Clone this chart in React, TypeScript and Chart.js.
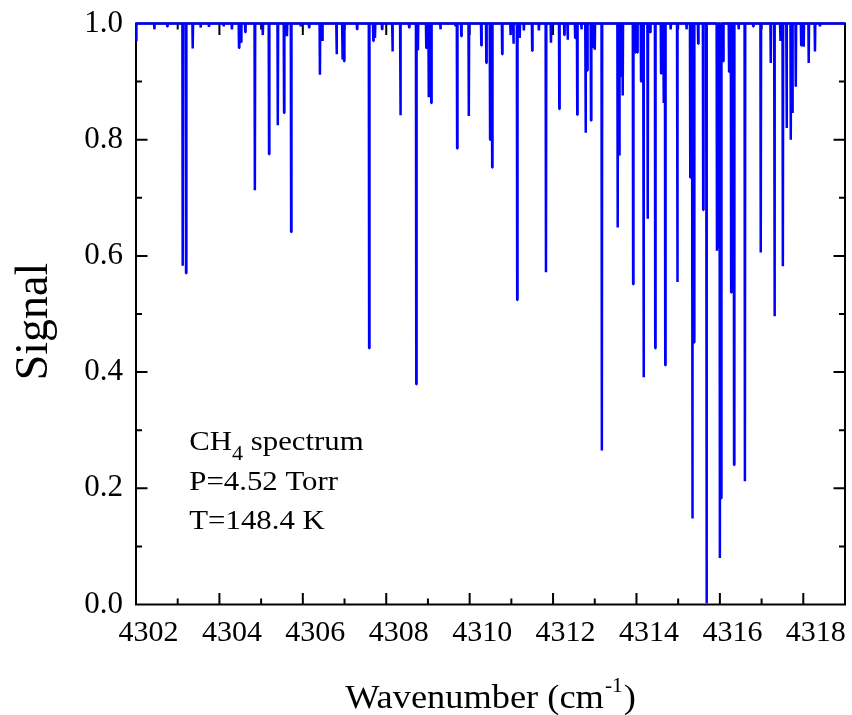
import React, { useEffect, useRef } from "react";
import { Chart, registerables } from "chart.js";

Chart.register(...registerables);

// ---- Data ----
const xRange = [4302, 4319];
const yRange = [0, 1];
const xTickStep = 2;
const yTickStep = 0.2;

// spectrum end points (wavenumber, signal)
const edgeWavenumbers = [4302.0, 4319.0];
const edgeSignals = [0.97, 1.0];
const baselineSignal = 1.0;

// absorption line centres (cm-1) and the signal at each line's minimum
const lineCenters = [
  4302.44, 4302.75, 4303.12, 4303.2, 4303.36, 4303.55, 4303.75, 4304.1, 4304.3, 4304.47,
  4304.52, 4304.62, 4304.85, 4305.04, 4305.19, 4305.4, 4305.55, 4305.62, 4305.72, 4305.95,
  4306.15, 4306.41, 4306.47, 4306.81, 4306.95, 4306.99, 4307.3, 4307.59, 4307.69, 4307.73,
  4307.9, 4308.15, 4308.34, 4308.55, 4308.72, 4308.76, 4308.96, 4309.02, 4309.08, 4309.3,
  4309.66, 4309.7, 4309.8, 4309.98, 4310.28, 4310.4, 4310.49, 4310.54, 4310.78, 4310.98,
  4311.05, 4311.14, 4311.2, 4311.3, 4311.5, 4311.66, 4311.83, 4311.95, 4312.15, 4312.27,
  4312.35, 4312.53, 4312.58, 4312.68, 4312.78, 4312.82, 4312.91, 4312.96, 4313.0, 4313.17,
  4313.55, 4313.59, 4313.63, 4313.67, 4313.92, 4313.97, 4314.02, 4314.11, 4314.17, 4314.27,
  4314.33, 4314.45, 4314.59, 4314.65, 4314.69, 4314.82, 4314.98, 4315.2, 4315.29, 4315.34,
  4315.38, 4315.48, 4315.6, 4315.68, 4315.93, 4315.96, 4316.0, 4316.03, 4316.08, 4316.22,
  4316.27, 4316.3, 4316.34, 4316.45, 4316.6, 4316.8, 4316.98, 4317.22, 4317.31, 4317.45,
  4317.51, 4317.6, 4317.7, 4317.74, 4317.82, 4317.95, 4318.01, 4318.13, 4318.28, 4318.4,
];
const lineSignals = [
  0.99, 0.995, 0.583, 0.57, 0.957, 0.993, 0.994, 0.995, 0.99, 0.958,
  0.968, 0.985, 0.713, 0.98, 0.775, 0.825, 0.846, 0.978, 0.641, 0.995,
  0.993, 0.912, 0.97, 0.947, 0.938, 0.935, 0.99, 0.441, 0.97, 0.975,
  0.99, 0.952, 0.842, 0.993, 0.379, 0.954, 0.958, 0.873, 0.863, 0.99,
  0.995, 0.785, 0.978, 0.841, 0.962, 0.932, 0.8, 0.752, 0.947, 0.98,
  0.965, 0.524, 0.975, 0.988, 0.953, 0.988, 0.572, 0.967, 0.853, 0.98,
  0.972, 0.975, 0.843, 0.99, 0.812, 0.919, 0.833, 0.96, 0.955, 0.265,
  0.649, 0.773, 0.91, 0.876, 0.551, 0.95, 0.95, 0.9, 0.391, 0.664,
  0.985, 0.441, 0.914, 0.863, 0.412, 0.99, 0.555, 0.99, 0.735, 0.148,
  0.451, 0.965, 0.679, 0.002, 0.609, 0.615, 0.08, 0.183, 0.935, 0.917,
  0.537, 0.84, 0.24, 0.99, 0.212, 0.995, 0.606, 0.932, 0.496, 0.97,
  0.582, 0.82, 0.8, 0.846, 0.891, 0.962, 0.96, 0.932, 0.952, 0.995,
];

// ---- Text ----
const yTitle = "Signal";
const xTitleMain = "Wavenumber (cm";
const xTitleSup = "-1";
const xTitleEnd = ")";
const noteLine1 = ["CH", "4", " spectrum"];
const noteLine2 = "P=4.52 Torr";
const noteLine3 = "T=148.4 K";

const FONT = "'Liberation Serif', 'Times New Roman', serif";
const LINE_HALF_WIDTH = 0.008;

function buildSpectrum() {
  const pts: { x: number; y: number }[] = [];
  pts.push({ x: edgeWavenumbers[0], y: edgeSignals[0] });
  pts.push({ x: edgeWavenumbers[0] + 0.01, y: baselineSignal });
  for (let i = 0; i < lineCenters.length; i++) {
    const c = lineCenters[i];
    pts.push({ x: c - LINE_HALF_WIDTH, y: baselineSignal });
    pts.push({ x: c, y: lineSignals[i] });
    pts.push({ x: c + LINE_HALF_WIDTH, y: baselineSignal });
  }
  pts.push({ x: edgeWavenumbers[1], y: edgeSignals[1] });
  return pts;
}

function drawScaled(ctx: CanvasRenderingContext2D, text: string, x: number, y: number, sx: number) {
  ctx.save();
  ctx.translate(x, y);
  ctx.scale(sx, 1);
  ctx.fillText(text, 0, 0);
  const w = ctx.measureText(text).width * sx;
  ctx.restore();
  return w;
}

const framePlugin = {
  id: "frameTicks",
  beforeDatasetsDraw(chart: any) {
    const { ctx, chartArea: a, scales } = chart;
    const xs = scales.x;
    const ys = scales.y;
    ctx.save();
    ctx.strokeStyle = "#000";
    ctx.lineWidth = 2;
    ctx.strokeRect(a.left, a.top, a.right - a.left, a.bottom - a.top);
    ctx.beginPath();
    for (let v = xRange[0] + 1; v < xRange[1]; v += 1) {
      const major = (v - xRange[0]) % xTickStep === 0;
      const len = major ? 11.5 : 6;
      const px = xs.getPixelForValue(v);
      ctx.moveTo(px, a.bottom);
      ctx.lineTo(px, a.bottom - len);
      ctx.moveTo(px, a.top);
      ctx.lineTo(px, a.top + len);
    }
    for (let k = 1; k < 10; k++) {
      const v = k / 10;
      const major = k % 2 === 0;
      const len = major ? 11.5 : 6;
      const py = ys.getPixelForValue(v);
      ctx.moveTo(a.left, py);
      ctx.lineTo(a.left + len, py);
      ctx.moveTo(a.right, py);
      ctx.lineTo(a.right - len, py);
    }
    ctx.stroke();
    ctx.restore();
  },
  afterDraw(chart: any) {
    const { ctx, chartArea: a } = chart;
    ctx.save();
    ctx.fillStyle = "#000";
    ctx.textBaseline = "alphabetic";

    // y title
    ctx.save();
    ctx.font = `46px ${FONT}`;
    ctx.textAlign = "center";
    ctx.translate(a.left - 89.3, (a.top + a.bottom) / 2 + 7.5);
    ctx.rotate(-Math.PI / 2);
    ctx.fillText(yTitle, 0, 0);
    ctx.restore();

    // x title with superscript
    const sx = 1.07;
    ctx.textAlign = "left";
    ctx.font = `34px ${FONT}`;
    const w1 = ctx.measureText(xTitleMain).width * sx;
    const w3 = ctx.measureText(xTitleEnd).width * sx;
    ctx.font = `20px ${FONT}`;
    const w2 = ctx.measureText(xTitleSup).width * sx;
    const total = w1 + w2 + w3 + 2;
    let x = (a.left + a.right) / 2 - total / 2;
    const base = a.bottom + 103.8;
    ctx.font = `34px ${FONT}`;
    x += drawScaled(ctx, xTitleMain, x, base, sx) + 1;
    ctx.font = `20px ${FONT}`;
    x += drawScaled(ctx, xTitleSup, x, base - 16.6, sx) + 1;
    ctx.font = `34px ${FONT}`;
    drawScaled(ctx, xTitleEnd, x, base, sx);

    // annotation
    const ns = 1.1;
    const nx = a.left + 53.3;
    const b1 = a.top + 426;
    let cx = nx;
    ctx.font = `28px ${FONT}`;
    cx += drawScaled(ctx, noteLine1[0], cx, b1, ns);
    ctx.font = `20px ${FONT}`;
    cx += drawScaled(ctx, noteLine1[1], cx, b1 + 10, ns);
    ctx.font = `28px ${FONT}`;
    drawScaled(ctx, noteLine1[2], cx, b1, ns);
    drawScaled(ctx, noteLine2, nx, a.top + 466, ns);
    drawScaled(ctx, noteLine3, nx, a.top + 505.5, ns);
    ctx.restore();
  },
};

export default function App() {
  const ref = useRef<HTMLCanvasElement | null>(null);
  useEffect(() => {
    if (!ref.current) return;
    const chart = new Chart(ref.current, {
      type: "line",
      data: {
        datasets: [
          {
            data: buildSpectrum(),
            borderColor: "#0000ff",
            borderWidth: 2.5,
            pointRadius: 0,
            tension: 0,
            fill: false,
            borderJoinStyle: "bevel",
            clip: 4,
          } as any,
        ],
      },
      options: {
        animation: false,
        responsive: false,
        events: [],
        layout: { padding: { top: 23.5, right: 7, left: 0, bottom: 0 } },
        plugins: { legend: { display: false }, tooltip: { enabled: false } },
        scales: {
          x: {
            type: "linear",
            min: xRange[0],
            max: xRange[1],
            grid: { display: false, drawTicks: false },
            border: { display: false },
            ticks: {
              stepSize: xTickStep,
              includeBounds: false,
              autoSkip: false,
              maxRotation: 0,
              labelOffset: 12.5,
              padding: 11,
              color: "#000",
              font: { family: FONT, size: 30 },
              callback: (v: any) => String(v),
            },
            afterFit: (s: any) => {
              s.height = 110.5;
              s.paddingLeft = 0;
              s.paddingRight = 0;
            },
          },
          y: {
            type: "linear",
            min: yRange[0],
            max: yRange[1],
            grid: { display: false, drawTicks: false },
            border: { display: false },
            ticks: {
              stepSize: yTickStep,
              padding: 13,
              color: "#000",
              font: { family: FONT, size: 31 },
              callback: (v: any) => Number(v).toFixed(1),
            },
            afterFit: (s: any) => {
              s.width = 136;
              s.paddingTop = 0;
              s.paddingBottom = 0;
            },
          },
        },
      },
      plugins: [framePlugin],
    });
    return () => chart.destroy();
  }, []);
  return (
    <div style={{ position: "absolute", left: 0, top: 0, width: 852, height: 715, background: "#fff" }}>
      <canvas ref={ref} width={852} height={715} style={{ display: "block" }} />
    </div>
  );
}
